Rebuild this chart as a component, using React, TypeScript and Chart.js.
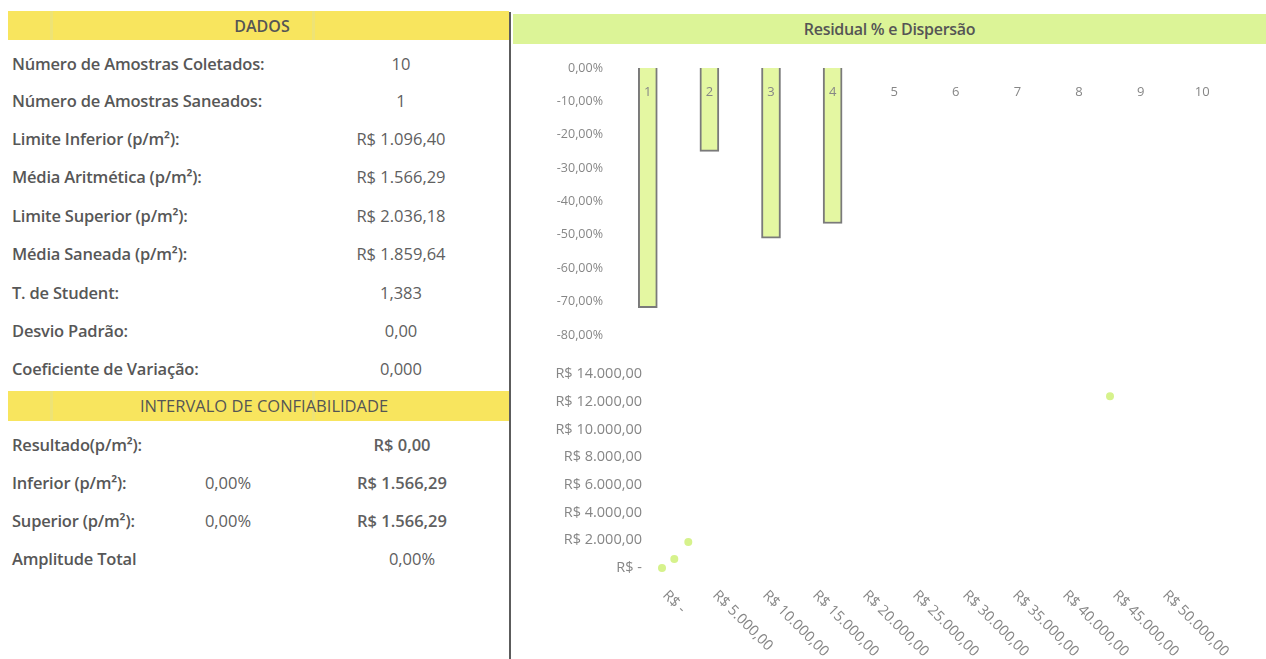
import React, { useEffect, useRef } from "react";
import { Chart, registerables } from "chart.js";

Chart.register(...registerables);

// ---------- DATA ----------
const dadosTitle = "DADOS";
const dadosLabels = [
  "Número de Amostras Coletados:",
  "Número de Amostras Saneados:",
  "Limite Inferior (p/m²):",
  "Média Aritmética (p/m²):",
  "Limite Superior (p/m²):",
  "Média Saneada (p/m²):",
  "T. de Student:",
  "Desvio Padrão:",
  "Coeficiente de Variação:",
];
const dadosValues = ["10", "1", "R$ 1.096,40", "R$ 1.566,29", "R$ 2.036,18", "R$ 1.859,64", "1,383", "0,00", "0,000"];

const intervaloTitle = "INTERVALO DE CONFIABILIDADE";
const intervaloLabels = ["Resultado(p/m²):", "Inferior (p/m²):", "Superior (p/m²):", "Amplitude Total"];
const intervaloPercents = ["", "0,00%", "0,00%", ""];
const intervaloValues = ["R$ 0,00", "R$ 1.566,29", "R$ 1.566,29", "0,00%"];

const chartTitle = "Residual % e Dispersão";
const residualCategories = ["1", "2", "3", "4", "5", "6", "7", "8", "9", "10"];
const residualValues: (number | null)[] = [-71.8, -25.0, -51.0, -46.6, null, null, null, null, null, null];
const residualYTicks = [0, -10, -20, -30, -40, -50, -60, -70, -80];

const scatterX = [0, 1230, 2630, 44800];
const scatterY = [0, 650, 1870, 12400];
const scatterXTicks = [0, 5000, 10000, 15000, 20000, 25000, 30000, 35000, 40000, 45000, 50000];
const scatterXTickLabels = [
  "R$ -", "R$ 5.000,00", "R$ 10.000,00", "R$ 15.000,00", "R$ 20.000,00", "R$ 25.000,00",
  "R$ 30.000,00", "R$ 35.000,00", "R$ 40.000,00", "R$ 45.000,00", "R$ 50.000,00",
];
const scatterYTicks = [0, 2000, 4000, 6000, 8000, 10000, 12000, 14000];
const scatterYTickLabels = [
  "R$ -", "R$ 2.000,00", "R$ 4.000,00", "R$ 6.000,00", "R$ 8.000,00", "R$ 10.000,00", "R$ 12.000,00", "R$ 14.000,00",
];

// ---------- STYLE ----------
const FONT = "'Open Sans', 'Noto Sans', sans-serif";
const TICK_COLOR = "#868686";

const pctLabel = (v: number) => {
  const idx = residualYTicks.findIndex((t) => Math.abs(t - v) < 1e-6);
  const n = idx >= 0 ? residualYTicks[idx] : v;
  if (Math.abs(n) < 1e-9) return "0,00%";
  return n.toFixed(2).replace(".", ",") + "%";
};

const rotatedXLabels = {
  id: "rotatedXLabels",
  afterDraw(chart: any) {
    const sc = chart.scales.x;
    const ctx = chart.ctx;
    ctx.save();
    ctx.font = `14.5px ${FONT}`;
    ctx.fillStyle = TICK_COLOR;
    ctx.textAlign = "left";
    ctx.textBaseline = "middle";
    scatterXTicks.forEach((v, i) => {
      const px = sc.getPixelForValue(v);
      ctx.save();
      ctx.translate(px + 3, chart.chartArea.bottom + 25);
      ctx.rotate(Math.PI / 4);
      ctx.fillText(scatterXTickLabels[i], 0, 0);
      ctx.restore();
    });
    ctx.restore();
  },
};

function BarChart() {
  const ref = useRef<HTMLCanvasElement | null>(null);
  useEffect(() => {
    if (!ref.current) return;
    const chart = new Chart(ref.current, {
      type: "bar",
      data: {
        labels: residualCategories,
        datasets: [
          {
            data: residualValues,
            backgroundColor: "#e4f7a2",
            borderColor: "#7a7a7a",
            borderWidth: 2,
            barThickness: 19,
          },
        ],
      },
      options: {
        animation: false,
        responsive: true,
        maintainAspectRatio: false,
        layout: { padding: { top: 18, right: 33, bottom: 15, left: 0 } },
        plugins: { legend: { display: false }, tooltip: { enabled: false } },
        scales: {
          x: {
            position: { y: 0 } as any,
            grid: { display: false, drawTicks: false },
            border: { display: false },
            ticks: { color: TICK_COLOR, font: { family: FONT, size: 13 }, padding: 16, maxRotation: 0, z: 1 },
          },
          y: {
            min: -80,
            max: 0,
            grid: { display: false, drawTicks: true, tickLength: 14 },
            border: { display: false },
            afterBuildTicks: (s: any) => {
              s.ticks = residualYTicks.map((v) => ({ value: v }));
            },
            afterFit: (s: any) => {
              s.width = 104;
            },
            ticks: {
              color: TICK_COLOR,
              font: { family: FONT, size: 12.5 },
              padding: 0,
              callback: (v: any) => pctLabel(Number(v)),
            },
          },
        },
      } as any,
    });
    return () => chart.destroy();
  }, []);
  return <canvas ref={ref} />;
}

function ScatterChart() {
  const ref = useRef<HTMLCanvasElement | null>(null);
  useEffect(() => {
    if (!ref.current) return;
    const chart = new Chart(ref.current, {
      type: "scatter",
      data: {
        datasets: [
          {
            data: scatterX.map((x, i) => ({ x, y: scatterY[i] })),
            backgroundColor: "#d6f28c",
            borderColor: "#d6f28c",
            borderWidth: 0,
            pointRadius: 4,
            clip: false as any,
          },
        ],
      },
      options: {
        animation: false,
        responsive: true,
        maintainAspectRatio: false,
        layout: { padding: { top: 19, right: 104, bottom: 0, left: 0 } },
        plugins: { legend: { display: false }, tooltip: { enabled: false } },
        scales: {
          x: {
            type: "linear",
            min: 0,
            max: 50000,
            grid: { display: false, drawTicks: false },
            border: { display: false },
            ticks: { display: false },
            afterBuildTicks: (s: any) => {
              s.ticks = scatterXTicks.map((v) => ({ value: v }));
            },
            afterFit: (s: any) => {
              s.height = 91;
            },
          },
          y: {
            min: 0,
            max: 14000,
            grid: { display: false, drawTicks: true, tickLength: 20 },
            border: { display: false },
            afterBuildTicks: (s: any) => {
              s.ticks = scatterYTicks.map((v) => ({ value: v }));
            },
            afterFit: (s: any) => {
              s.width = 149;
            },
            ticks: {
              color: TICK_COLOR,
              font: { family: FONT, size: 14.5 },
              padding: 0,
              callback: (v: any) => {
                const i = scatterYTicks.indexOf(Number(v));
                return i >= 0 ? scatterYTickLabels[i] : "";
              },
            },
          },
        },
      } as any,
      plugins: [rotatedXLabels],
    });
    return () => chart.destroy();
  }, []);
  return <canvas ref={ref} />;
}

const TABLE_FS = 16.5;

const labelStyle = (cy: number): React.CSSProperties => ({
  position: "absolute",
  left: 12,
  top: cy - 12,
  height: 24,
  lineHeight: "24px",
  fontWeight: 600,
  color: "#575757",
  fontSize: TABLE_FS,
  letterSpacing: -0.2,
  whiteSpace: "nowrap",
});

const centerStyle = (cx: number, cy: number, bold = false): React.CSSProperties => ({
  position: "absolute",
  left: cx - 120,
  width: 240,
  top: cy - 12,
  height: 24,
  lineHeight: "24px",
  textAlign: "center",
  fontWeight: bold ? 600 : 400,
  color: "#606060",
  fontSize: TABLE_FS,
  whiteSpace: "nowrap",
});

const dadosY = [64, 101, 139, 177, 216, 254, 293, 331, 369];
const intervaloY = [445, 483, 521, 559];

export default function App() {
  return (
    <div
      style={{
        position: "absolute",
        left: 0,
        top: 0,
        width: 1266,
        height: 659,
        background: "#ffffff",
        fontFamily: FONT,
        overflow: "hidden",
      }}
    >
      {/* yellow bands */}
      <div style={{ position: "absolute", left: 8, top: 11, width: 501, height: 29, background: "#f8e55e" }} />
      <div style={{ position: "absolute", left: 8, top: 391, width: 501, height: 30, background: "#f8e55e" }} />
      {[50, 312].map((x) => (
        <React.Fragment key={x}>
          <div style={{ position: "absolute", left: x, top: 11, width: 3, height: 29, background: "#eee375" }} />
          <div style={{ position: "absolute", left: x, top: 391, width: 3, height: 30, background: "#eee375" }} />
        </React.Fragment>
      ))}
      <div style={{ ...centerStyle(262, 26, true), fontSize: 16, color: "#555" }}>{dadosTitle}</div>
      <div style={{ ...centerStyle(260, 406, false), fontSize: 16.5, fontWeight: 500, color: "#555" }}>{intervaloTitle}</div>

      {dadosLabels.map((l, i) => (
        <React.Fragment key={l}>
          <div style={labelStyle(dadosY[i])}>{l}</div>
          <div style={centerStyle(401, dadosY[i])}>{dadosValues[i]}</div>
        </React.Fragment>
      ))}
      {intervaloLabels.map((l, i) => (
        <React.Fragment key={l}>
          <div style={labelStyle(intervaloY[i])}>{l}</div>
          {intervaloPercents[i] ? <div style={centerStyle(228, intervaloY[i])}>{intervaloPercents[i]}</div> : null}
          <div style={centerStyle(i === 3 ? 412 : 402, intervaloY[i], i < 3)}>{intervaloValues[i]}</div>
        </React.Fragment>
      ))}

      {/* vertical separator */}
      <div style={{ position: "absolute", left: 509, top: 12, width: 2, height: 647, background: "#5c5c5c" }} />

      {/* green title band */}
      <div style={{ position: "absolute", left: 513, top: 14, width: 753, height: 30, background: "#dcf497" }} />
      <div
        style={{
          position: "absolute",
          left: 513,
          top: 14,
          width: 753,
          height: 30,
          lineHeight: "30px",
          textAlign: "center",
          fontWeight: 600,
          fontSize: 16,
          letterSpacing: -0.3,
          color: "#555",
        }}
      >
        {chartTitle}
      </div>

      <div style={{ position: "absolute", left: 513, top: 50, width: 753, height: 300 }}>
        <BarChart />
      </div>
      <div style={{ position: "absolute", left: 513, top: 355, width: 753, height: 304 }}>
        <ScatterChart />
      </div>
    </div>
  );
}
